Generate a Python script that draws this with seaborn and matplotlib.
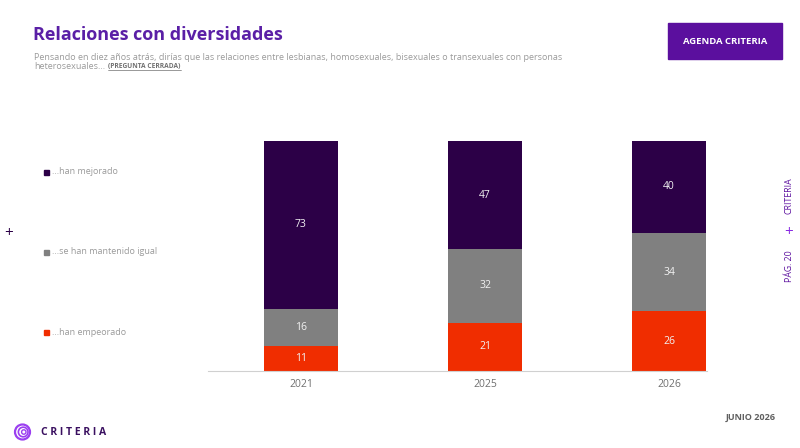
import matplotlib.pyplot as plt
import seaborn as sns
import pandas as pd
from matplotlib.patches import Rectangle, Circle

years = ["2021", "2025", "2026"]
empeorado = [11, 21, 26]
igual = [16, 32, 34]
mejorado = [73, 47, 40]

series_names = ["...han mejorado", "...se han mantenido igual", "...han empeorado"]
colors = {"mejorado": "#2c0047", "igual": "#808080", "empeorado": "#f02d00"}

sns.set_theme(style="white")
plt.rcParams["font.family"] = ["Open Sans", "DejaVu Sans"]

fig = plt.figure(figsize=(8, 4.48), dpi=100)
ax = fig.add_axes([0.26, 0.1719, 0.624, 0.5134])

data = pd.DataFrame({"year": years, "empeorado": empeorado,
                     "igual": igual, "mejorado": mejorado})
data["b_igual"] = data["empeorado"]
data["b_mejorado"] = data["empeorado"] + data["igual"]

bar_kw = dict(width=0.4, ax=ax, saturation=1, linewidth=0)
sns.barplot(x="year", y="empeorado", data=data, color=colors["empeorado"], **bar_kw)
sns.barplot(x="year", y="igual", data=data, bottom=data["b_igual"],
            color=colors["igual"], **bar_kw)
sns.barplot(x="year", y="mejorado", data=data, bottom=data["b_mejorado"],
            color=colors["mejorado"], **bar_kw)

# value labels
for i in range(len(years)):
    bottoms = [0, empeorado[i], empeorado[i] + igual[i]]
    vals = [empeorado[i], igual[i], mejorado[i]]
    for b, v in zip(bottoms, vals):
        ax.text(i, b + v / 2, str(v), ha="center", va="center",
                color="#f2f2f2", fontsize=7.5)

ax.set_xlim(-0.505, 2.207)
ax.set_ylim(0, 100)
ax.set_xlabel("")
ax.set_ylabel("")
ax.set_yticks([])
for s in ["top", "right", "left"]:
    ax.spines[s].set_visible(False)
ax.spines["bottom"].set_color("#d0d0d0")
ax.spines["bottom"].set_linewidth(0.8)
ax.tick_params(axis="x", length=0, colors="#707070", labelsize=7.5, pad=6)

# legend on the left
leg_y = [172, 252, 332]
leg_c = [colors["mejorado"], colors["igual"], colors["empeorado"]]
for y, c, name in zip(leg_y, leg_c, series_names):
    fy = 1 - y / 448
    fig.patches.append(Rectangle((44 / 800, fy - 0.007), 5 / 800, 5 / 448,
                                 transform=fig.transFigure, color=c))
    fig.text(52 / 800, fy, name, color="#9a9a9a", fontsize=6.5, va="center")

# header
fig.text(33 / 800, 1 - 35 / 448, "Relaciones con diversidades", color="#5a1fa6",
         fontsize=13, fontweight="bold", va="center")
fig.text(34 / 800, 1 - 57 / 448,
         "Pensando en diez años atrás, dirías que las relaciones entre lesbianas, "
         "homosexuales, bisexuales o transexuales con personas",
         color="#9a9a9a", fontsize=6.5, va="center")
het = fig.text(34 / 800, 1 - 66.5 / 448, "heterosexuales...", color="#9a9a9a",
               fontsize=6.5, va="center")
fig.canvas.draw()
x_end = het.get_window_extent().x1 / 800 + 3 / 800
lab = fig.text(x_end, 1 - 66.5 / 448, "(PREGUNTA CERRADA)", color="#707070",
               fontsize=4.8, fontweight="bold", va="center")
fig.canvas.draw()
x_lab_end = lab.get_window_extent().x1 / 800
fig.add_artist(plt.Line2D([x_end, x_lab_end], [1 - 70.5 / 448, 1 - 70.5 / 448],
                          color="#707070", lw=0.5))

# button
fig.patches.append(Rectangle((668 / 800, 1 - 59 / 448), 114 / 800, 36 / 448,
                             transform=fig.transFigure, color="#5b0f9e"))
fig.text(725 / 800, 1 - 41 / 448, "AGENDA CRITERIA", color="white", fontsize=6.8,
         fontweight="bold", ha="center", va="center")

# side marks
fig.text(9 / 800, 1 - 233 / 448, "+", color="#2c0047", fontsize=11,
         ha="center", va="center")
fig.text(789 / 800, 1 - 196 / 448, "CRITERIA", color="#5b0f9e", fontsize=6.3,
         rotation=90, ha="center", va="center")
fig.text(789 / 800, 1 - 232 / 448, "+", color="#8a2be2", fontsize=11,
         ha="center", va="center")
fig.text(789 / 800, 1 - 266 / 448, "PÁG. 20", color="#5b0f9e", fontsize=6.3,
         rotation=90, ha="center", va="center")

# footer
fig.text(776 / 800, 1 - 417 / 448, "JUNIO 2026", color="#606060", fontsize=6.5,
         fontweight="bold", ha="right", va="center")
for (cx, r, lw) in [(0.225, 0.075, 1.6), (0.232, 0.048, 1.2), (0.238, 0.022, 1.0)]:
    fig.patches.append(Circle((cx, 0.16), r, transform=fig.dpi_scale_trans,
                              fill=False, color="#9b3ff0", lw=lw))
fig.text(41 / 800, 1 - 432 / 448, "C R I T E R I A", color="#3a1060",
         fontsize=7.5, fontweight="bold", va="center")

plt.savefig("out.png", dpi=100)
